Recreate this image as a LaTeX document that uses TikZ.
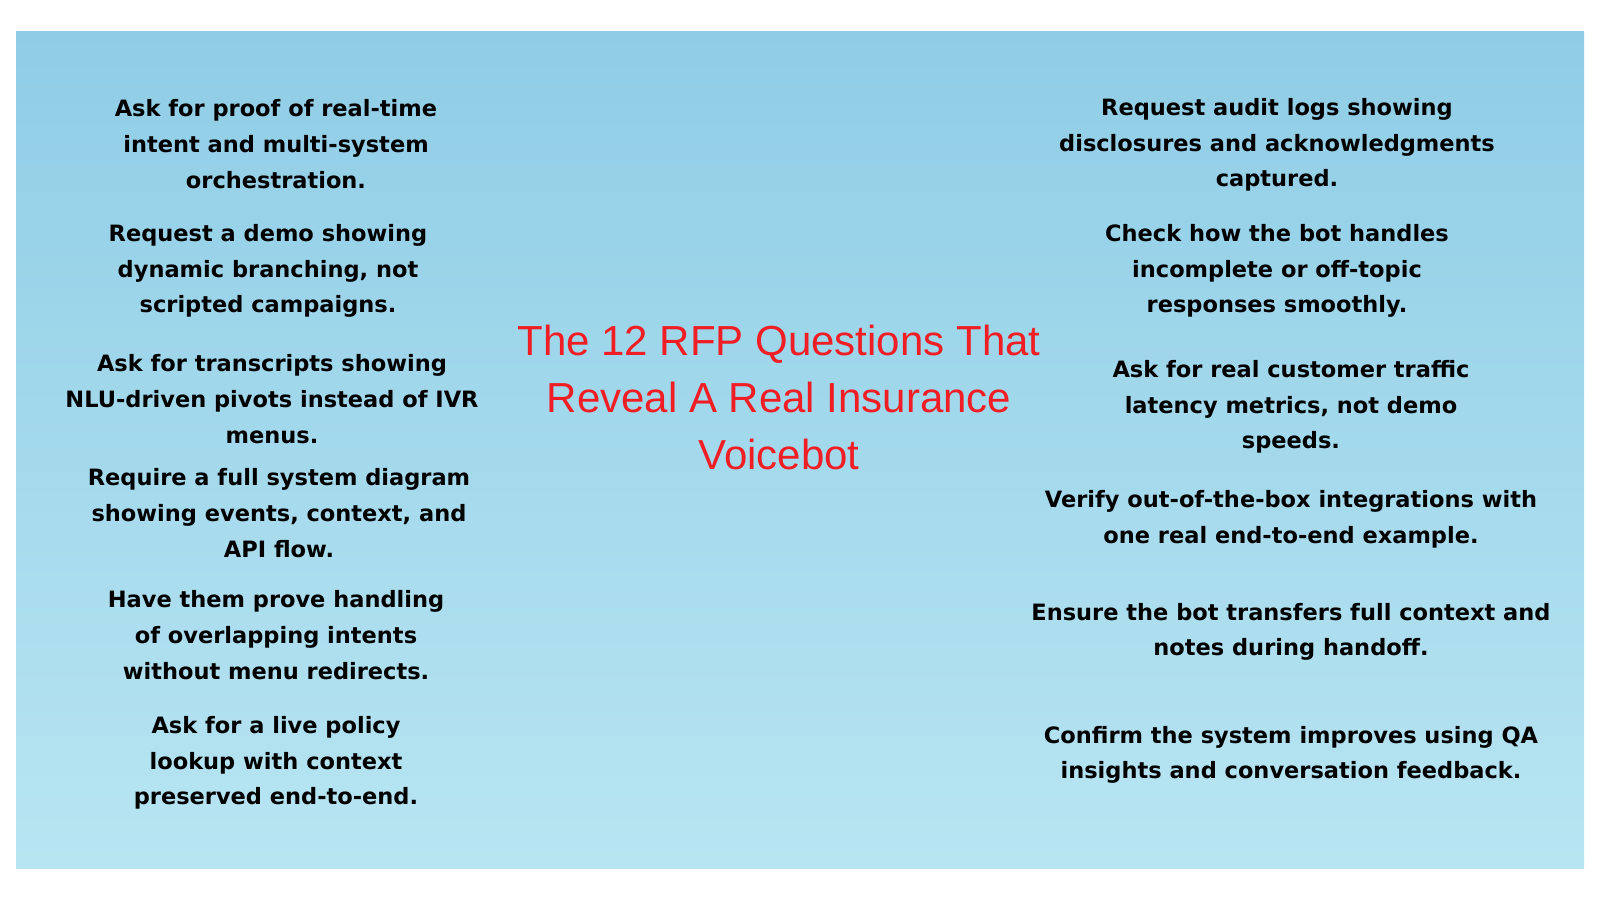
\documentclass[tikz,border=0pt]{standalone}
\usepackage{fontspec}
\setmainfont{Liberation Sans}
\newfontfamily\qfont{DejaVu Sans}
\begin{document}
\begin{tikzpicture}[x=1pt,y=-1pt,
  q/.style={align=center,font=\qfont\fontsize{22.5}{35.7}\selectfont\bfseries,text=black,inner sep=0},
  ttl/.style={align=center,font=\fontsize{42}{57}\selectfont,text={rgb,255:red,240;green,30;blue,36},inner sep=0}]
\definecolor{bgtop}{RGB}{143,205,230}
\definecolor{bgbot}{RGB}{184,229,242}
\useasboundingbox (0,0) rectangle (1600,900);
\fill[white] (0,0) rectangle (1600,900);
\shade[top color=bgtop,bottom color=bgbot] (16,31) rectangle (1584,868);
\node[q] (l1) at (276,144) {Ask for proof of real-time\\intent and multi-system\\orchestration.};
\node[q] (l2) at (268,271) {Request a demo showing\\dynamic branching, not\\scripted campaigns.};
\node[q] (l3) at (272,399) {Ask for transcripts showing\\NLU-driven pivots instead of IVR\\menus.};
\node[q] (l4) at (279,513) {Require a full system diagram\\showing events, context, and\\API flow.};
\node[q] (l5) at (276,635) {Have them prove handling\\of overlapping intents\\without menu redirects.};
\node[q] (l6) at (276,763) {Ask for a live policy\\lookup with context\\preserved end-to-end.};
\node[q] (r1) at (1277,145) {Request audit logs showing\\disclosures and acknowledgments\\captured.};
\node[q] (r2) at (1277,271) {Check how the bot handles\\incomplete or off-topic\\responses smoothly.};
\node[q] (r3) at (1291,407) {Ask for real customer traffic\\latency metrics, not demo\\speeds.};
\node[q] (r4) at (1291,519) {Verify out-of-the-box integrations with\\one real end-to-end example.};
\node[q] (r5) at (1291,632) {Ensure the bot transfers full context and\\notes during handoff.};
\node[q] (r6) at (1291,755) {Confirm the system improves using QA\\insights and conversation feedback.};
\node[ttl] (t) at (779,397) {The 12 RFP Questions That\\Reveal A Real Insurance\\Voicebot};
\end{tikzpicture}
\end{document}
